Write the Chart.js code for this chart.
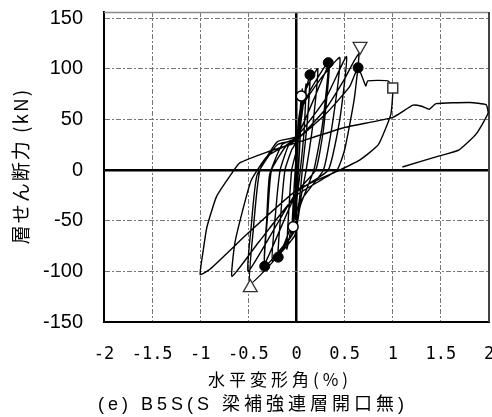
<!DOCTYPE html>
<html><head><meta charset="utf-8">
<script src="https://cdn.jsdelivr.net/npm/chart.js@4.4.1/dist/chart.umd.min.js"></script>
<style>html,body{margin:0;padding:0;background:#fff;overflow:hidden}canvas{display:block}</style>
</head><body>
<canvas id="c" width="492" height="417"></canvas>
<script>
// ---- data ----
const xTickValues = [-2, -1.5, -1, -0.5, 0, 0.5, 1, 1.5, 2];
const yTickValues = [-150, -100, -50, 0, 50, 100, 150];

// hysteresis path: drift angle (%) and storey shear (kN), one line per cycle
const driftPct = [
  0,
  0.02, 0.05, 0.035, 0.015, -0.01, -0.035, -0.025, -0.01, 0,
  0.03, 0.06, 0.04, 0.02, 0, -0.05, -0.03, -0.01, 0,
  0.05, 0.10, 0.08, 0.04, 0, -0.1, -0.08, -0.05, 0,
  0.03, 0.14, 0.11, 0.06, 0.02, -0.19, -0.16, -0.12, -0.05, 0,
  0.03, 0.1, 0.22, 0.17, 0.1, 0.03, -0.02, -0.25, -0.22, -0.17, -0.08, 0,
  0.03, 0.15, 0.33, 0.27, 0.18, 0.04, -0.02, -0.33, -0.31, -0.28, -0.15, 0,
  0.18, 0.34, 0.28, 0.2, 0, -0.33, -0.3, -0.26, -0.1, 0,
  0.04, 0.25, 0.45, 0.38, 0.28, 0.05, -0.02, -0.48, -0.45, -0.38, -0.2, 0,
  0.3, 0.52, 0.45, 0.33, 0, -0.5, -0.47, -0.41, -0.2, 0,
  0.3, 0.5, 0.6, 0.65, 0.6, 0.5, 0.42, 0, -0.4, -0.67, -0.64, -0.56, -0.47, -0.3, 0,
  0.3, 0.55, 0.64, 0.72, 0.74, 0.95, 1.0, 0.98, 0.85, 0.66, 0.45, 0, -0.5, -0.9, -1.0, -0.97, -0.93, -0.83, -0.67, -0.59, -0.3, 0,
  0.5, 1.0, 1.21, 1.3, 1.38, 1.45, 1.8, 1.97, 1.99, 1.87, 1.69, 1.45, 1.1
];
const shearKN = [
  0,
  35, 73, 30, 0, -25, -56, -20, 5, 15,
  40, 80, 35, 0, -30, -65, -25, 5, 18,
  50, 85, 40, 0, -30, -78, -40, 0, 20,
  50, 94, 45, 0, -35, -86, -40, 0, 20, 28,
  55, 80, 100, 45, 0, -35, -60, -90, -45, 0, 25, 30,
  55, 80, 106, 45, 0, -35, -60, -95, -50, -5, 25, 32,
  70, 104, 40, 0, -22, -92, -45, 0, 25, 30,
  60, 90, 111, 50, 0, -30, -65, -112, -60, 0, 28, 33,
  70, 112, 50, 0, -22, -100, -55, -5, 25, 30,
  60, 90, 108, 115, 70, 20, 0, -25, -72, -105, -72, -40, -10, 14, 30,
  55, 82, 101, 83, 88, 88, 81, 55, 25, 10, 0, -20, -62, -98, -103, -80, -56, -26, -3, 7, 18, 27,
  42, 52, 64, 63, 60, 65.5, 66.7, 64.5, 56, 36, 20, 13, 3
];

// event markers
const crackX = [0.05, -0.035];            const crackY = [73, -56];          // open circles
const yieldX = [0.14, 0.33, 0.64, -0.19, -0.33]; const yieldY = [94, 106, 101, -86, -95]; // filled circles
const maxX = [0.66, -0.48];               const maxY = [122, -116];          // triangles
const ultX = [1.0];                       const ultY = [81];                 // square

const yTitle = '層せん断力 (kN)';
const xTitle = '水平変形角(%)';
const caption = '(e) B5S(S 梁補強連層開口無)';

const pts = (xs, ys) => xs.map((x, i) => ({x: x, y: ys[i]}));

const framePlugin = {
  id: 'frame',
  beforeDatasetsDraw(chart) {
    const {ctx, chartArea: a} = chart;
    ctx.save();
    ctx.strokeStyle = '#8a8a8a'; ctx.lineWidth = 1.5;
    ctx.beginPath(); ctx.moveTo(a.left, a.top + 0.5); ctx.lineTo(a.right, a.top + 0.5); ctx.stroke();
    ctx.strokeStyle = '#444'; ctx.lineWidth = 2;
    ctx.beginPath(); ctx.moveTo(a.right, a.top); ctx.lineTo(a.right, a.bottom); ctx.stroke();
    ctx.restore();
  }
};

const textPlugin = {
  id: 'texts',
  afterDraw(chart) {
    const ctx = chart.ctx;
    ctx.save();
    ctx.fillStyle = '#000';
    ctx.textAlign = 'center';
    ctx.textBaseline = 'middle';
    // y title
    ctx.save();
    ctx.translate(21, 166);
    ctx.rotate(-Math.PI / 2);
    ctx.font = '19px "Noto Sans CJK JP", sans-serif';
    ctx.letterSpacing = '2px';
    ctx.fillText(yTitle, 0, 0);
    ctx.restore();
    // x title
    ctx.font = '17px "Noto Sans CJK JP", sans-serif';
    ctx.letterSpacing = '4px';
    ctx.fillText(xTitle, 280, 380);
    // caption
    ctx.font = '18px "Liberation Sans", "Noto Sans CJK JP", sans-serif';
    ctx.letterSpacing = '4px';
    ctx.fillText(caption, 253, 405);
    ctx.restore();
  }
};

const zeroIs = c => c.tick && c.tick.value === 0;

new Chart(document.getElementById('c'), {
  type: 'scatter',
  data: {
    datasets: [
      {label: 'crack', data: pts(crackX, crackY), pointStyle: 'circle', pointRadius: 5,
       backgroundColor: '#fff', borderColor: '#000', borderWidth: 1.5, order: 0},
      {label: 'yield', data: pts(yieldX, yieldY), pointStyle: 'circle', pointRadius: 5,
       backgroundColor: '#000', borderColor: '#000', borderWidth: 1, order: 0},
      {label: 'max', data: pts(maxX, maxY), pointStyle: 'triangle', pointRadius: 8,
       rotation: c => (c.raw && c.raw.y > 0 ? 180 : 0),
       backgroundColor: '#fff', borderColor: '#333', borderWidth: 1.3, order: 0},
      {label: 'ultimate', data: pts(ultX, ultY), pointStyle: 'rect', pointRadius: 7,
       backgroundColor: '#fff', borderColor: '#333', borderWidth: 1.5, order: 0},
      {label: 'loop', data: pts(driftPct, shearKN), showLine: true, pointRadius: 0,
       borderColor: '#000', borderWidth: 1.4, tension: 0.15, order: 1}
    ]
  },
  options: {
    responsive: false, animation: false, devicePixelRatio: 1,
    layout: {padding: {left: 0, top: 12, right: 3, bottom: 0}, autoPadding: false},
    plugins: {legend: {display: false}, tooltip: {enabled: false}},
    scales: {
      x: {
        type: 'linear', min: -2, max: 2,
        afterBuildTicks: s => { s.ticks = xTickValues.map(v => ({value: v})); },
        afterFit: s => { s.height = 95; s.paddingLeft = 0; s.paddingRight = 0; },
        ticks: {padding: 22, color: '#000', autoSkip: false, maxRotation: 0,
                font: {family: '"DejaVu Sans Mono", monospace', size: 17},
                callback: v => String(v)},
        grid: {drawTicks: false, color: c => zeroIs(c) ? '#000' : '#777',
               lineWidth: c => zeroIs(c) ? 2.5 : 1},
        border: {color: '#000', width: 2, dash: c => zeroIs(c) ? [] : [5, 2, 2, 2]}
      },
      y: {
        type: 'linear', min: -150, max: 156,
        afterBuildTicks: s => { s.ticks = yTickValues.map(v => ({value: v})); },
        afterFit: s => { s.width = 104; s.paddingTop = 0; s.paddingBottom = 0; },
        ticks: {padding: 21, color: '#000',
                font: {family: '"Liberation Sans", Arial, sans-serif', size: 20},
                callback: v => String(v)},
        grid: {drawTicks: false, color: c => zeroIs(c) ? '#000' : '#777',
               lineWidth: c => zeroIs(c) ? 2.5 : 1},
        border: {color: '#000', width: 2, dash: c => zeroIs(c) ? [] : [5, 2, 2, 2]}
      }
    }
  },
  plugins: [framePlugin, textPlugin]
});
</script>
</body></html>
